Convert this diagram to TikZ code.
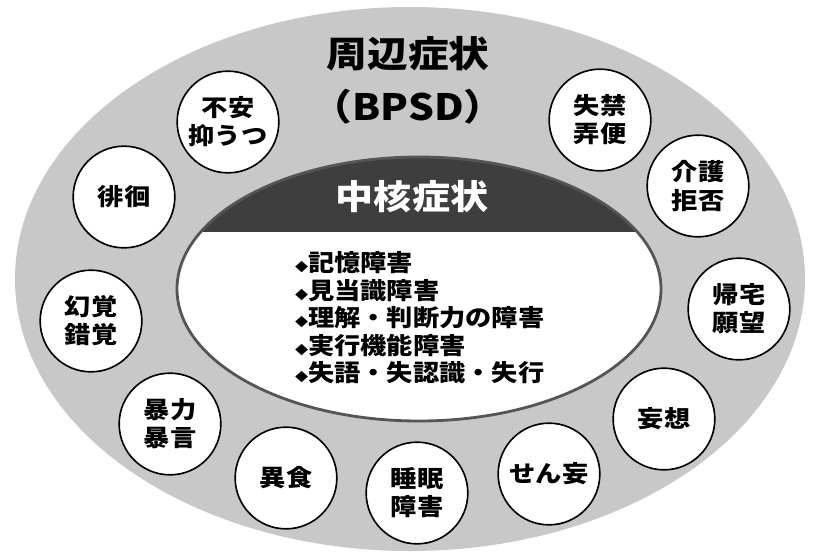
\documentclass[tikz,border=0pt]{standalone}
\usepackage{fontspec}
\newfontfamily\cjk[FakeStretch=1.12]{Noto Sans CJK JP}
\usepackage{tikz}
\usetikzlibrary{shapes,positioning}
\definecolor{bpsdgray}{RGB}{200,200,200}
\definecolor{coregray}{RGB}{62,62,62}
\definecolor{rimgray}{RGB}{85,85,85}
\tikzstyle{symptom} = [circle, draw=black, line width=1.4pt, fill=white, minimum size=3.05cm, inner sep=0pt, align=center, font=\cjk\bfseries\fontsize{20}{24}\selectfont]
\tikzstyle{bigtitle} = [font=\cjk\bfseries\fontsize{31}{34}\selectfont]
\newcommand{\dia}{{\fontsize{10}{10}\selectfont ◆}}

\begin{document}
\begin{tikzpicture}[x=0.3mm, y=-0.3mm]
\useasboundingbox (0,0) rectangle (813,560);
% Areas
\fill[bpsdgray] (410,279) ellipse [x radius=395, y radius=272];
\fill[white] (419,289) ellipse [x radius=242, y radius=132];
\begin{scope}
\clip (0,0) rectangle (813,231);
\fill[coregray] (419,289) ellipse [x radius=242, y radius=132];
\end{scope}
\draw[rimgray, line width=2.4pt] (419,289) ellipse [x radius=242, y radius=132];

% Titles
\node[bigtitle] (bpsd) at (408,54) {周辺症状};
\node[bigtitle] (abbr) at (408,107) {（BPSD）};
\node[bigtitle, text=white, font=\cjk\bfseries\fontsize{29}{32}\selectfont] (core) at (412,197) {中核症状};
\node[anchor=west, align=left, font=\cjk\bfseries\fontsize{20}{23.5}\selectfont] (corelist) at (291,318)
  {\dia 記憶障害\\ \dia 見当識障害\\ \dia 理解・判断力の障害\\ \dia 実行機能障害\\ \dia 失語・失認識・失行};

% Nodes
\node[symptom] (fuan) at (228,122) {不安\\抑うつ};
\node[symptom] (shikkin) at (600,120) {失禁\\弄便};
\node[symptom] (haikai) at (124,197) {徘徊};
\node[symptom] (kaigo) at (698,186) {介護\\拒否};
\node[symptom] (genkaku) at (91,321) {幻覚\\錯覚};
\node[symptom] (kitaku) at (739,309) {帰宅\\願望};
\node[symptom] (boryoku) at (170,424) {暴力\\暴言};
\node[symptom] (moso) at (664,419) {妄想};
\node[symptom] (ishoku) at (286,478) {異食};
\node[symptom] (suimin) at (417,493) {睡眠\\障害};
\node[symptom] (senmo) at (549,474) {せん妄};
\end{tikzpicture}
\end{document}
